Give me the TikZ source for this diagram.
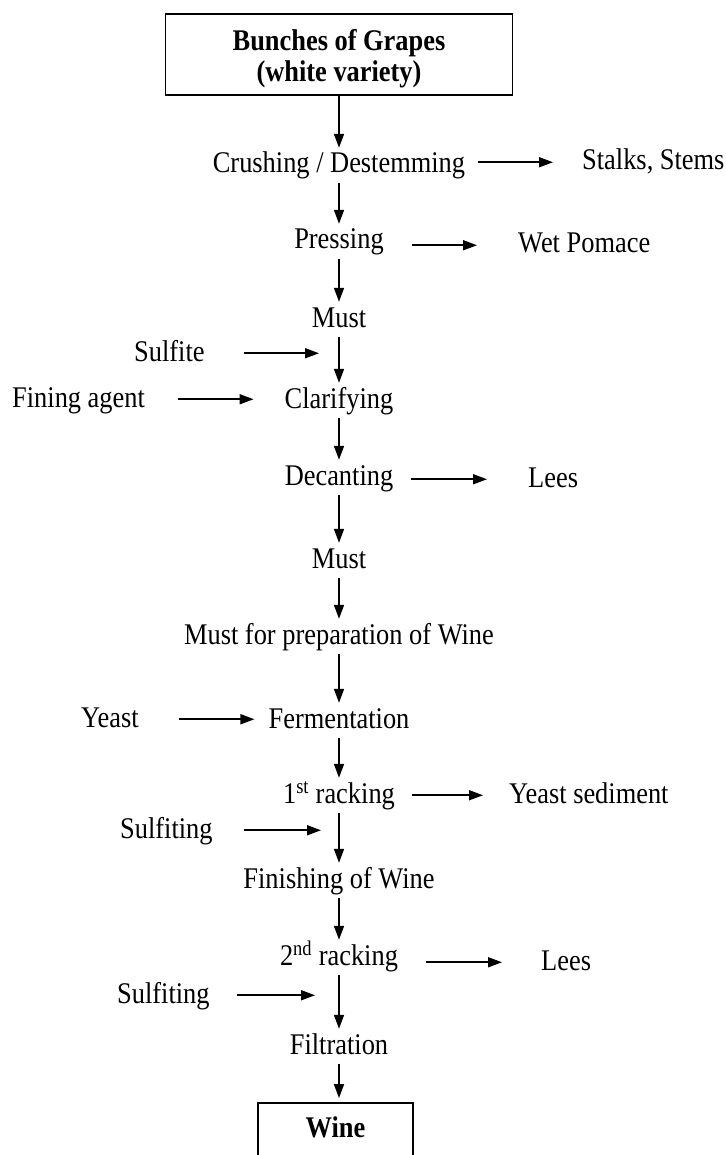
\documentclass[tikz,border=0pt]{standalone}
\usepackage{fontspec}
\setmainfont{Liberation Serif}[FakeStretch=0.88]
\usetikzlibrary{arrows.meta}
\tikzset{
  stage/.style={inner xsep=0pt,inner ysep=4pt,text height=21pt,text depth=5.5pt},
  box/.style={draw,line width=1.8pt,font=\fontsize{30}{31}\selectfont\bfseries},
  flow/.style={->,line width=1.7pt},
}

\begin{document}
\begin{tikzpicture}[x=1pt,y=1pt,>={Triangle[length=14pt,width=10pt]},font=\fontsize{30}{31}\selectfont]
  \useasboundingbox (0,0) rectangle (725,-1155);
  % raw material
  \node[box,align=center,minimum width=347pt,minimum height=81pt] (grapes) at (339,-54.5)
    {\rule{0pt}{28.5pt}Bunches of Grapes\\(white variety)};
  % main line
  \node[stage,anchor=base] (crush) at (339,-173) {Crushing / Destemming};
  \node[stage,anchor=base] (press) at (339,-249) {Pressing};
  \node[stage,anchor=base] (must1) at (339,-327) {Must};
  \node[stage,anchor=base] (clar) at (339,-408) {Clarifying};
  \node[stage,anchor=base] (decant) at (339,-485) {Decanting};
  \node[stage,anchor=base] (must2) at (339,-568) {Must};
  \node[stage,anchor=base] (prep) at (339,-644) {Must for preparation of Wine};
  \node[stage,anchor=base] (ferm) at (339,-728) {Fermentation};
  \node[stage,anchor=base] (rack1) at (339,-803) {1\textsuperscript{st} racking};
  \node[stage,anchor=base] (finish) at (339,-888) {Finishing of Wine};
  \node[stage,anchor=base] (rack2) at (339,-965) {2\textsuperscript{nd} racking};
  \node[stage,anchor=base] (filt) at (339,-1054) {Filtration};
  \node[box,minimum width=155pt,minimum height=56pt,text depth=8pt] (wine) at (335.5,-1131) {Wine};
  % by-products
  \node[stage,anchor=base west] (stalks) at (582,-170) {Stalks, Stems};
  \node[stage,anchor=base west] (pomace) at (518,-253) {Wet Pomace};
  \node[stage,anchor=base west] (lees1) at (528,-487) {Lees};
  \node[stage,anchor=base west] (sediment) at (509,-803) {Yeast sediment};
  \node[stage,anchor=base west] (lees2) at (541,-970) {Lees};
  % additions
  \node[stage,anchor=base west] (sulfite) at (134,-361) {Sulfite};
  \node[stage,anchor=base west] (fining) at (12,-407) {Fining agent};
  \node[stage,anchor=base west] (yeast) at (81,-727) {Yeast};
  \node[stage,anchor=base west] (sulf1) at (120,-838) {Sulfiting};
  \node[stage,anchor=base west] (sulf2) at (117,-1003) {Sulfiting};
  % flow down
  \draw[flow] (grapes) -- (crush);
  \draw[flow] (crush) -- (press);
  \draw[flow] (press) -- (must1);
  \draw[flow] (must1) -- (clar);
  \draw[flow] (clar) -- (decant);
  \draw[flow] (decant) -- (must2);
  \draw[flow] (must2) -- (prep);
  \draw[flow] (prep) -- (ferm);
  \draw[flow] (ferm) -- (rack1);
  \draw[flow] (rack1) -- (finish);
  \draw[flow] (finish) -- (rack2);
  \draw[flow] (rack2) -- (filt);
  \draw[flow,shorten >=4pt] (filt.south) -- (filt.south |- wine.north);
  % outputs
  \draw[flow,shorten <=12.5pt,shorten >=29pt] (crush.east |- stalks) -- (stalks.west);
  \draw[flow,shorten <=28pt,shorten >=41pt] (press.east |- pomace) -- (pomace.west);
  \draw[flow,shorten <=18pt,shorten >=41pt] (decant.east |- lees1) -- (lees1.west);
  \draw[flow,shorten <=16.5pt,shorten >=26pt] (rack1.east |- sediment) -- (sediment.west);
  \draw[flow,shorten <=28pt,shorten >=39pt] (rack2.east |- lees2) -- (lees2.west);
  % inputs
  \draw[flow,shorten <=39pt,shorten >=20pt] (sulfite.east) -- (sulfite -| must1.south);
  \draw[flow,shorten <=33pt,shorten >=31pt] (fining.east) -- (fining -| clar.west);
  \draw[flow,shorten <=40pt,shorten >=14pt] (yeast.east) -- (yeast -| ferm.west);
  \draw[flow,shorten <=31pt,shorten >=18pt] (sulf1.east) -- (sulf1 -| rack1.south);
  \draw[flow,shorten <=27pt,shorten >=24pt] (sulf2.east) -- (sulf2 -| rack2.south);
\end{tikzpicture}
\end{document}
